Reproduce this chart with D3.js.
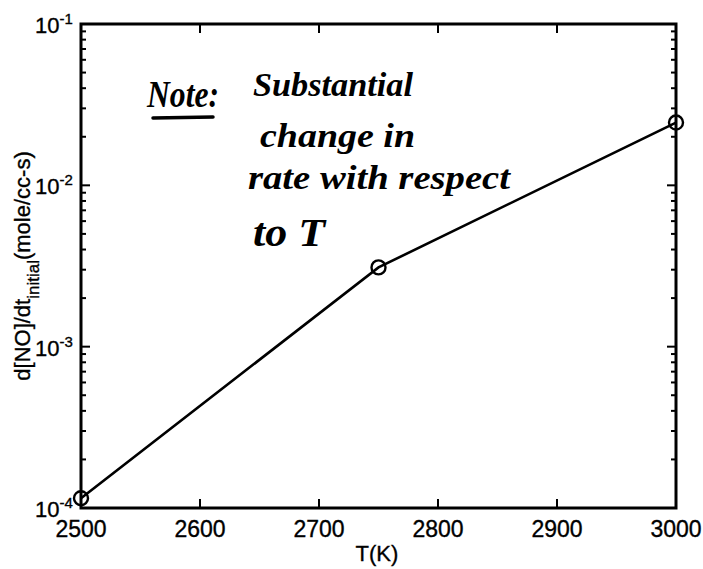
<!DOCTYPE html>
<html>
<head>
  <meta charset="utf-8">
  <title>d[NO]/dt vs T</title>
  <style>
    body { margin: 0; background: #fff; }
    svg { display: block; }
    .tick-label { font-family: "Liberation Sans", Arial, sans-serif; fill: #000; stroke: #000; stroke-width: 0.35; }
    .note { font-family: "Liberation Serif", serif; font-style: italic; font-weight: bold; fill: #000; }
  </style>
</head>
<body>
  <svg id="chart" width="703" height="569"></svg>
  <script src="https://cdn.jsdelivr.net/npm/d3@7"></script>
  <script>
    // data
    const temps = [2500, 2750, 3000];
    const rates = [1.15e-4, 3.1e-3, 2.45e-2];
    const xTicks = [2500, 2600, 2700, 2800, 2900, 3000];
    const yDecades = [1e-4, 1e-3, 1e-2, 1e-1];
    const yExponents = ["-4", "-3", "-2", "-1"];
    const noteLines = ["Substantial", "change in", "rate with respect", "to T"];

    const svg = d3.select("#chart");
    const mLeft = 81, mRight = 676, mTop = 24, mBottom = 508;

    const x = d3.scaleLinear().domain([2500, 3000]).range([mLeft, mRight]);
    const y = d3.scaleLog().domain([1e-4, 1e-1]).range([mBottom, mTop]);

    // minor ticks on log axis
    const minor = [];
    yDecades.slice(0, -1).forEach(d => {
      for (let k = 2; k <= 9; k++) minor.push(d * k);
    });

    const g = svg.append("g");

    // ticks (inward, all four sides)
    const tickG = g.append("g").attr("stroke", "#000").attr("stroke-width", 2);
    xTicks.slice(1, -1).forEach(t => {
      tickG.append("line").attr("x1", x(t)).attr("x2", x(t)).attr("y1", mBottom).attr("y2", mBottom - 9);
      tickG.append("line").attr("x1", x(t)).attr("x2", x(t)).attr("y1", mTop).attr("y2", mTop + 9);
    });
    yDecades.forEach(v => {
      tickG.append("line").attr("x1", mLeft).attr("x2", mLeft + 9).attr("y1", y(v)).attr("y2", y(v));
      tickG.append("line").attr("x1", mRight).attr("x2", mRight - 9).attr("y1", y(v)).attr("y2", y(v));
    });
    minor.forEach(v => {
      tickG.append("line").attr("x1", mLeft).attr("x2", mLeft + 5).attr("y1", y(v)).attr("y2", y(v));
      tickG.append("line").attr("x1", mRight).attr("x2", mRight - 5).attr("y1", y(v)).attr("y2", y(v));
    });

    // box
    g.append("rect")
      .attr("x", mLeft).attr("y", mTop)
      .attr("width", mRight - mLeft).attr("height", mBottom - mTop)
      .attr("fill", "none").attr("stroke", "#000").attr("stroke-width", 3);

    // x tick labels
    g.selectAll(".xl").data(xTicks).enter().append("text")
      .attr("class", "tick-label")
      .attr("x", d => x(d)).attr("y", 537)
      .attr("text-anchor", "middle")
      .attr("font-size", 23)
      .text(d => d);

    // y tick labels 10^n
    yDecades.forEach((v, i) => {
      const t = g.append("text").attr("class", "tick-label")
        .attr("x", 35).attr("y", y(v) + 9).attr("font-size", 22);
      t.append("tspan").text("10");
      t.append("tspan").attr("dy", -9).attr("font-size", 15).text(yExponents[i]);
    });

    // axis titles
    g.append("text").attr("class", "tick-label")
      .attr("x", 377).attr("y", 561)
      .attr("text-anchor", "middle").attr("font-size", 22)
      .text("T(K)");

    const yl = g.append("text").attr("class", "tick-label")
      .attr("transform", "translate(30,266) rotate(-90)")
      .attr("text-anchor", "middle").attr("font-size", 22);
    yl.append("tspan").text("d[NO]/dt");
    yl.append("tspan").attr("dy", 9).attr("font-size", 17).text("initial");
    yl.append("tspan").attr("dy", -9).text("(mole/cc-s)");

    // data line and markers
    const pts = temps.map((t, i) => [t, rates[i]]);
    g.append("path")
      .datum(pts)
      .attr("fill", "none").attr("stroke", "#000").attr("stroke-width", 2.6)
      .attr("d", d3.line().x(d => x(d[0])).y(d => y(d[1])));
    g.selectAll(".pt").data(pts).enter().append("circle")
      .attr("cx", d => x(d[0])).attr("cy", d => y(d[1])).attr("r", 7)
      .attr("fill", "none").attr("stroke", "#000").attr("stroke-width", 2.4);

    // handwritten note
    const noteG = g.append("g");
    noteG.append("text").attr("class", "note")
      .attr("x", 147).attr("y", 107).attr("font-size", 38)
      .attr("textLength", 72).attr("lengthAdjust", "spacingAndGlyphs")
      .text("Note:");
    noteG.append("line")
      .attr("x1", 153).attr("x2", 213).attr("y1", 118).attr("y2", 117)
      .attr("stroke", "#000").attr("stroke-width", 3.5).attr("stroke-linecap", "round");
    const notePos = [[253, 96, 160], [260, 147, 155], [248, 189, 262], [253, 246, 72]];
    noteLines.forEach((s, i) => {
      noteG.append("text").attr("class", "note")
        .attr("x", notePos[i][0]).attr("y", notePos[i][1]).attr("font-size", i === 3 ? 40 : 33)
        .attr("textLength", notePos[i][2]).attr("lengthAdjust", "spacingAndGlyphs")
        .text(s);
    });
  </script>
</body>
</html>
